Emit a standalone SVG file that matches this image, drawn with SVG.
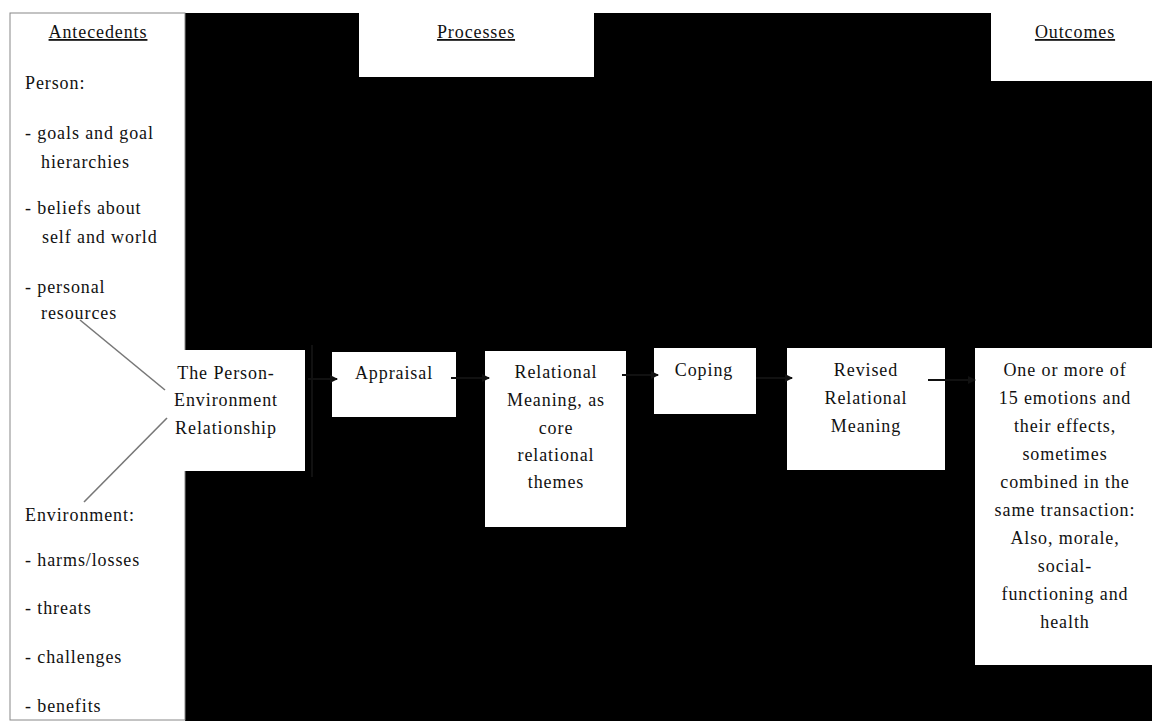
<svg xmlns="http://www.w3.org/2000/svg" width="1152" height="721" viewBox="0 0 1152 721">
<defs>
<style>
text{font-family:"Liberation Serif","Times New Roman",serif;font-size:18px;letter-spacing:0.9px;fill:#111}
.c{text-anchor:middle}
.ln{stroke:#111;stroke-width:2;fill:none}
.gr{stroke:#777;stroke-width:1.6;fill:none}
</style>
<marker id="ah" markerWidth="8" markerHeight="8" refX="7" refY="4" orient="auto" markerUnits="userSpaceOnUse">
<path d="M0,0 L8,4 L0,8 z" fill="#111"/>
</marker>
</defs>
<rect x="0" y="0" width="1152" height="721" fill="#fff"/>
<rect x="185" y="13" width="967" height="708" fill="#000"/>
<g id="antecedents">
<rect x="10" y="13" width="175" height="707" fill="#fff" stroke="#888" stroke-width="1"/>
<text class="c" x="98" y="38" text-decoration="underline">Antecedents</text>
<text x="25" y="89">Person:</text>
<text x="25" y="139">- goals and goal</text>
<text x="41" y="168">hierarchies</text>
<text x="25" y="214">- beliefs about</text>
<text x="42" y="243">self and world</text>
<text x="25" y="293">- personal</text>
<text x="41" y="319">resources</text>
<text x="25" y="521">Environment:</text>
<text x="25" y="566">- harms/losses</text>
<text x="25" y="614">- threats</text>
<text x="25" y="663">- challenges</text>
<text x="25" y="712">- benefits</text>
</g>
<g id="processes-header">
<rect x="359" y="13" width="235" height="64" fill="#fff"/>
<text class="c" x="476" y="38" text-decoration="underline">Processes</text>
</g>
<g id="outcomes-header">
<rect x="991" y="13" width="161" height="68" fill="#fff"/>
<text class="c" x="1075" y="38" text-decoration="underline">Outcomes</text>
</g>
<g id="person-environment">
<rect x="184" y="350" width="121" height="121" fill="#fff"/>
<text class="c" x="226" y="379">The Person-</text>
<text class="c" x="226" y="406">Environment</text>
<text class="c" x="226" y="434">Relationship</text>
</g>
<g id="appraisal">
<rect x="332" y="352" width="124" height="65" fill="#fff"/>
<text class="c" x="394" y="379">Appraisal</text>
</g>
<g id="relational-meaning">
<rect x="485" y="351" width="141" height="176" fill="#fff"/>
<text class="c" x="556" y="378">Relational</text>
<text class="c" x="556" y="406">Meaning, as</text>
<text class="c" x="556" y="434">core</text>
<text class="c" x="556" y="461">relational</text>
<text class="c" x="556" y="488">themes</text>
</g>
<g id="coping">
<rect x="654" y="348" width="102" height="66" fill="#fff"/>
<text class="c" x="704" y="376">Coping</text>
</g>
<g id="revised">
<rect x="787" y="348" width="158" height="122" fill="#fff"/>
<text class="c" x="866" y="376">Revised</text>
<text class="c" x="866" y="404">Relational</text>
<text class="c" x="866" y="432">Meaning</text>
</g>
<g id="outcomes">
<rect x="975" y="348" width="177" height="317" fill="#fff"/>
<text class="c" x="1065" y="376">One or more of</text>
<text class="c" x="1065" y="404">15 emotions and</text>
<text class="c" x="1065" y="432">their effects,</text>
<text class="c" x="1065" y="460">sometimes</text>
<text class="c" x="1065" y="488">combined in the</text>
<text class="c" x="1065" y="516">same transaction:</text>
<text class="c" x="1065" y="544">Also, morale,</text>
<text class="c" x="1065" y="572">social-</text>
<text class="c" x="1065" y="600">functioning and</text>
<text class="c" x="1065" y="628">health</text>
</g>
<g id="connectors">
<line class="gr" x1="80" y1="320" x2="165" y2="390"/>
<line class="gr" x1="167" y1="418" x2="84" y2="502"/>
<line class="ln" x1="312" y1="345" x2="312" y2="477"/>
<line class="ln" x1="308" y1="379" x2="337" y2="379" marker-end="url(#ah)"/>
<line class="ln" x1="451" y1="378" x2="489" y2="378" marker-end="url(#ah)"/>
<line class="ln" x1="622" y1="375" x2="658" y2="375" marker-end="url(#ah)"/>
<line class="ln" x1="756" y1="378" x2="792" y2="378" marker-end="url(#ah)"/>
<line class="ln" x1="928" y1="380" x2="975" y2="380" marker-end="url(#ah)"/>
</g>
</svg>
